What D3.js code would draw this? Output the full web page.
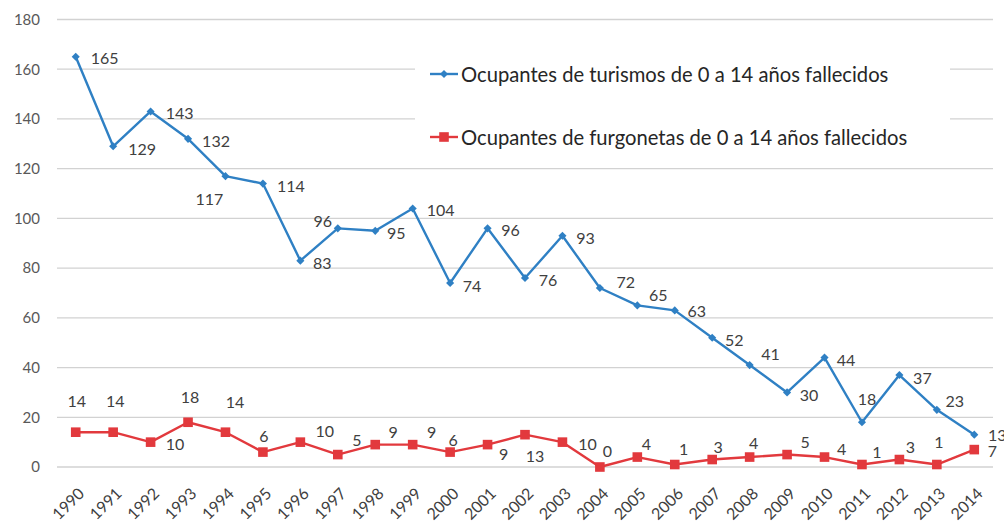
<!DOCTYPE html>
<html><head><meta charset="utf-8">
<script src="https://cdn.jsdelivr.net/npm/d3@7"></script>
<style>
html,body{margin:0;padding:0;background:#fff;}
svg{display:block;font-family:Lato, "Open Sans", sans-serif;}
</style></head>
<body>
<svg id="c" width="1004" height="524"></svg>
<script>
const years = ['1990','1991','1992','1993','1994','1995','1996','1997','1998','1999','2000','2001','2002','2003','2004','2005','2006','2007','2008','2009','2010','2011','2012','2013','2014'];
const turismos = [165,129,143,132,117,114,83,96,95,104,74,96,76,93,72,65,63,52,41,30,44,18,37,23,13];
const furgonetas = [14,14,10,18,14,6,10,5,9,9,6,9,13,10,0,4,1,3,4,5,4,1,3,1,7];
const yTicks = [0,20,40,60,80,100,120,140,160,180];
const seriesNames = ['Ocupantes de turismos de 0 a 14 años fallecidos','Ocupantes de furgonetas de 0 a 14 años fallecidos'];

// label placement (offset of label centre from its point)
const turLabelOffsets = [[29,1],[29,2],[29,1.5],[28,2],[-16,22],[28,1.5],[22,1.5],[-15,-8],[21,2],[28,1.5],[22,2],[23,1],[23,1.5],[23,2],[26,-7],[21,-11],[22,0.5],[22,2],[21,-12],[22,2],[21.5,2],[5,-24],[23,2],[18,-9],[23,0]];
const furLabelOffsets = [[1,-31.5],[2,-31.5],[24.5,1],[2,-25.5],[9.5,-30.5],[1,-17],[24.5,-12],[19,-15],[18,-13],[19,-13],[3,-13],[16,9],[10,21],[25,1],[7.5,-17],[9,-14],[9,-16],[6,-13.5],[4,-15],[18,-13],[17,-9],[15,-13],[11,-13.5],[2,-23],[18,1]];

const blue = '#2f80c4', red = '#e2393d';
const svg = d3.select('#c');
const x = d3.scaleBand().domain(years).range([57, 993]);
const cx = d => x(d) + x.bandwidth()/2;
const y = d3.scaleLinear().domain([0,180]).range([467, 19.5]);

// gridlines
svg.append('g').selectAll('line').data(yTicks).join('line')
  .attr('x1',57).attr('x2',993).attr('y1',d=>y(d)).attr('y2',d=>y(d))
  .attr('stroke','#d2d2d2').attr('stroke-width',1.3);

// y axis labels
const yAxis = d3.axisLeft(y).tickValues(yTicks).tickSize(0).tickPadding(0);
const gy = svg.append('g').attr('transform','translate(40,0)').call(yAxis);
gy.select('.domain').remove();
gy.selectAll('text').attr('font-family','Lato, sans-serif').attr('font-size',15).attr('fill','#595959');

// x axis labels
const xAxis = d3.axisBottom(x).tickSize(0).tickPadding(0);
const gx = svg.append('g').attr('transform','translate(0,467)').call(xAxis);
gx.select('.domain').remove();
gx.selectAll('text').attr('font-family','Lato, sans-serif').attr('font-size',16).attr('fill','#404040')
  .attr('text-anchor','end').attr('dy',null).attr('y',0)
  .attr('dominant-baseline','central')
  .attr('transform','translate(5,23) rotate(-45)');

// legend box (covers gridlines)
svg.append('rect').attr('x',415).attr('y',45).attr('width',535).attr('height',113).attr('fill','#fff');

const line = d3.line().x((d,i)=>cx(years[i])).y(d=>y(d));

// series lines
svg.append('path').datum(turismos).attr('d',line).attr('fill','none').attr('stroke',blue).attr('stroke-width',2.4).attr('stroke-linejoin','round');
svg.append('path').datum(furgonetas).attr('d',line).attr('fill','none').attr('stroke',red).attr('stroke-width',2.4).attr('stroke-linejoin','round');

// markers
svg.append('g').selectAll('path').data(turismos).join('path')
  .attr('d', d3.symbol(d3.symbolDiamond2, 42))
  .attr('transform',(d,i)=>`translate(${cx(years[i])},${y(d)})`)
  .attr('fill',blue);
svg.append('g').selectAll('rect').data(furgonetas).join('rect')
  .attr('x',(d,i)=>cx(years[i])-4.8).attr('y',d=>y(d)-4.8)
  .attr('width',9.6).attr('height',9.6).attr('fill',red);

// data labels
svg.append('g').selectAll('text').data(turismos).join('text')
  .attr('x',(d,i)=>cx(years[i])+turLabelOffsets[i][0])
  .attr('y',(d,i)=>y(d)+turLabelOffsets[i][1])
  .attr('text-anchor','middle').attr('dominant-baseline','central')
  .attr('font-size',16).attr('fill','#404040').text(d=>d);
svg.append('g').selectAll('text').data(furgonetas).join('text')
  .attr('x',(d,i)=>cx(years[i])+furLabelOffsets[i][0])
  .attr('y',(d,i)=>y(d)+furLabelOffsets[i][1])
  .attr('text-anchor','middle').attr('dominant-baseline','central')
  .attr('font-size',16).attr('fill','#404040').text(d=>d);

// legend
const leg = svg.append('g');
const legY = [74, 137];
const legCol = [blue, red];
seriesNames.forEach((n,k)=>{
  leg.append('line').attr('x1',430).attr('x2',458).attr('y1',legY[k]).attr('y2',legY[k])
    .attr('stroke',legCol[k]).attr('stroke-width',2.4);
  if(k===0){
    leg.append('path').attr('d',d3.symbol(d3.symbolDiamond2,42)).attr('transform',`translate(444,${legY[k]})`).attr('fill',blue);
  } else {
    leg.append('rect').attr('x',444-4.8).attr('y',legY[k]-4.8).attr('width',9.6).attr('height',9.6).attr('fill',red);
  }
  leg.append('text').attr('x',461).attr('y',legY[k]).attr('dominant-baseline','central')
    .attr('font-size',20.2).attr('fill','#262626').text(n);
});
</script>
</body></html>
